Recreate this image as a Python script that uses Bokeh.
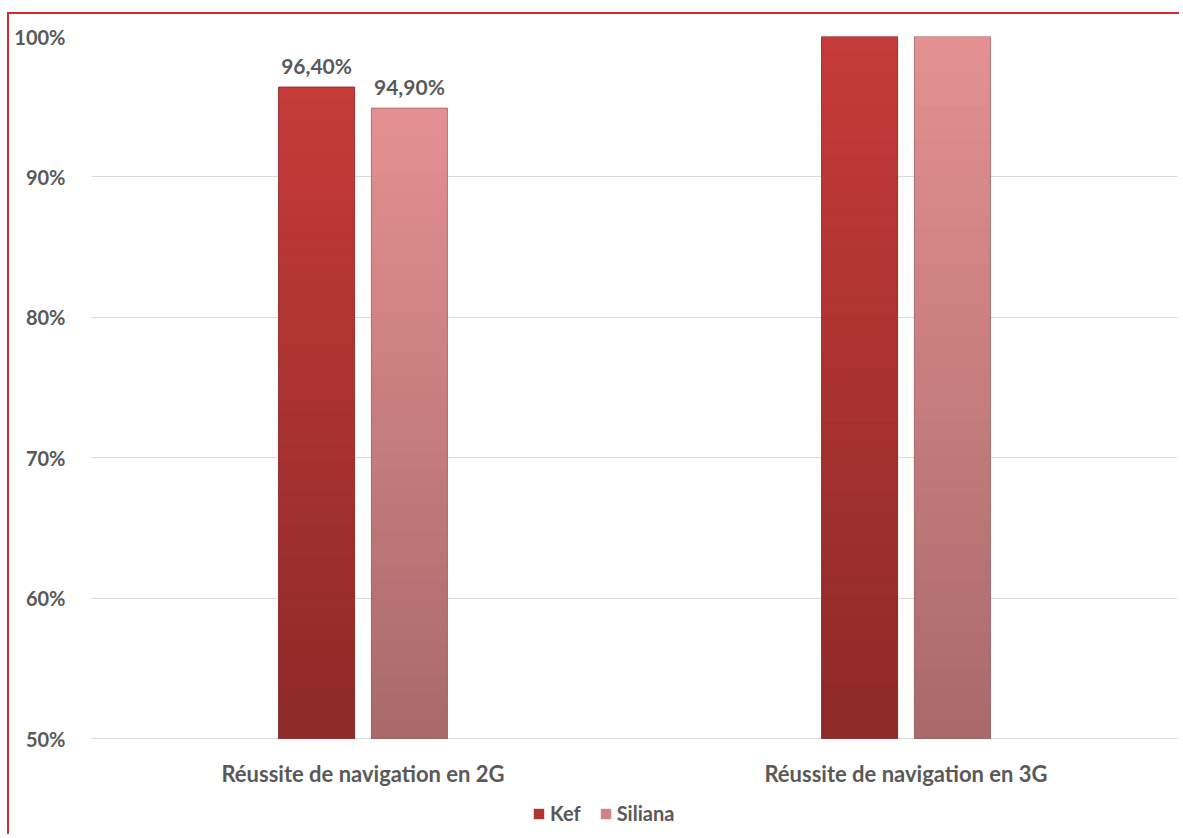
from bokeh.plotting import figure
from bokeh.models import ColumnDataSource, FactorRange, Legend, LegendItem, NumeralTickFormatter
from bokeh.transform import dodge
from bokeh.core.properties import value
from bokeh.embed import file_html
from bokeh.resources import INLINE

categories = ["Réussite de navigation en 2G", "Réussite de navigation en 3G"]
series = ["Kef", "Siliana"]
kef = [96.4, 100.0]
siliana = [94.9, 100.0]
labels_kef = ["96,40%", ""]
labels_siliana = ["94,90%", ""]
y_ticks = [50, 60, 70, 80, 90, 100]

FONT = "Lato"
TXT = "#595959"

# frame extends below the 50% baseline to host category labels and legend
Y0, Y1 = y_ticks[0], y_ticks[-1]
PLOT_PX = 702.0      # pixels between 50% and 100%
BELOW_PX = 92.0      # pixels below the 50% baseline
y_start = Y0 - (Y1 - Y0) * BELOW_PX / PLOT_PX

p = figure(x_range=FactorRange(*categories), y_range=(y_start, Y1),
           width=1172, height=822, output_backend="svg", toolbar_location=None,
           min_border_left=82, min_border_right=4, min_border_top=22, min_border_bottom=6)
p.margin = (12, 0, 0, 7)
p.styles = {"border-top": "2px solid #d42a2a", "border-left": "2px solid #d42a2a"}
p.outline_line_color = None

def hexmix(c1, c2, t):
    a = [int(c1[i:i + 2], 16) for i in (1, 3, 5)]
    b = [int(c2[i:i + 2], 16) for i in (1, 3, 5)]
    return "#%02x%02x%02x" % tuple(int(round(a[k] + (b[k] - a[k]) * t)) for k in range(3))

styles = {
    "Kef": dict(off=-0.0855, top="#c63b39", bot="#8d2a28", mid="#b03432", edge="#7a2020"),
    "Siliana": dict(off=0.0855, top="#e49090", bot="#a96a6a", mid="#cf8383", edge="#8a5252"),
}
values = {"Kef": kef, "Siliana": siliana}
labels = {"Kef": labels_kef, "Siliana": labels_siliana}

W = 0.14
N = 40
items = []
for s in series:
    st = styles[s]
    src = ColumnDataSource(dict(cat=categories, val=values[s], lab=labels[s]))
    r = p.vbar(x=dodge("cat", st["off"], range=p.x_range), top="val", bottom=Y0, width=W,
               source=src, fill_color=st["mid"], line_color=None)
    items.append(LegendItem(label=s, renderers=[r]))
    # gradient slices derived from each value
    xs, bots, tops, cols = [], [], [], []
    for c, v in zip(categories, values[s]):
        for i in range(N):
            b0 = Y0 + (v - Y0) * i / N
            t0 = Y0 + (v - Y0) * (i + 1) / N
            xs.append(c)
            bots.append(b0)
            tops.append(t0)
            cols.append(hexmix(st["bot"], st["top"], (i + 0.5) / N))
    gsrc = ColumnDataSource(dict(cat=xs, b=bots, t=tops, c=cols))
    p.vbar(x=dodge("cat", st["off"], range=p.x_range), top="t", bottom="b", width=W,
           source=gsrc, fill_color="c", line_color="c", line_width=0.5)
    # subtle edge
    p.vbar(x=dodge("cat", st["off"], range=p.x_range), top="val", bottom=Y0, width=W,
           source=src, fill_color=None, line_color=st["edge"], line_alpha=0.5, line_width=1)
    p.text(x=dodge("cat", st["off"], range=p.x_range), y="val", text="lab", source=src,
           text_align="center", text_baseline="bottom", y_offset=-9,
           text_font=value(FONT), text_font_style="bold", text_font_size="21px", text_color=TXT)

# category labels under the baseline
csrc = ColumnDataSource(dict(cat=categories, base=[Y0] * len(categories)))
p.text(x="cat", y="base", text="cat", source=csrc, text_align="center", text_baseline="middle",
       y_offset=35, text_font=value(FONT), text_font_style="bold", text_font_size="22px",
       text_color=TXT)
p.xaxis.visible = False

p.yaxis.ticker = y_ticks
p.yaxis.formatter = NumeralTickFormatter(format="0")
p.yaxis.major_label_overrides = {t: f"{t}%" for t in y_ticks}
p.yaxis.axis_line_color = None
p.yaxis.major_tick_line_color = None
p.yaxis.minor_tick_line_color = None
p.yaxis.major_label_text_font = FONT
p.yaxis.major_label_text_font_style = "bold"
p.yaxis.major_label_text_color = TXT
p.yaxis.major_label_text_font_size = "20px"
p.yaxis.major_label_standoff = 20
p.xgrid.grid_line_color = None
p.ygrid.grid_line_color = "#d9d9d9"
p.ygrid.grid_line_width = 1
p.x_range.range_padding = 0
p.x_range.group_padding = 0

legend = Legend(items=items, orientation="horizontal", location=(441, 5),
                label_text_font=FONT, label_text_font_style="bold", label_text_font_size="20px",
                label_text_color=TXT, glyph_width=13, glyph_height=13, spacing=18,
                border_line_color=None, background_fill_alpha=0, padding=0, margin=0,
                label_standoff=5)
p.add_layout(legend)

open("out.html", "w").write(file_html(p, INLINE))
